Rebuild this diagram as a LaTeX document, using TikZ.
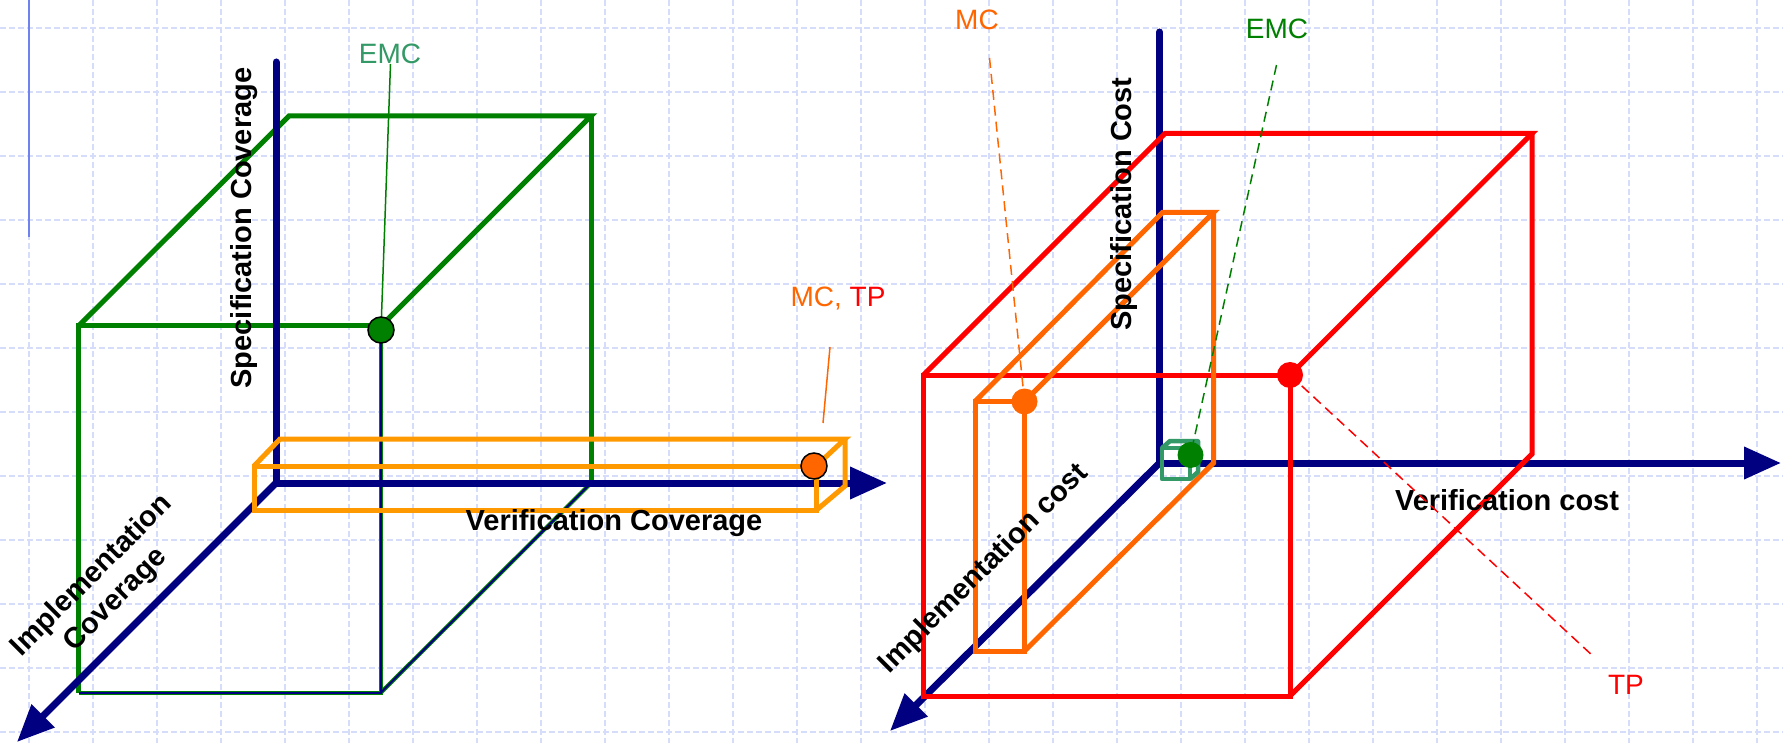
\documentclass[tikz,border=0pt]{standalone}
\usepackage{fontspec}
\setmainfont{Liberation Sans}
\usetikzlibrary{arrows.meta}
\definecolor{navyax}{HTML}{000080}
\definecolor{gbox}{HTML}{008000}
\definecolor{oleft}{HTML}{FF9900}
\definecolor{oright}{HTML}{FF6600}
\definecolor{rbox}{HTML}{FF0000}
\definecolor{sgreen}{HTML}{339966}
\definecolor{gridc}{RGB}{214,221,250}
\definecolor{slideblue}{RGB}{110,130,240}
\begin{document}
\begin{tikzpicture}[x=1pt,y=-1pt,
 gridline/.style={draw=gridc, line width=1.8pt, dash pattern=on 6pt off 3pt},
 axisline/.style={draw=navyax, line width=7pt},
 axisarrow/.style={axisline, -{Triangle[length=37pt,width=31pt]}},
 boxedge/.style={line width=5pt, line join=miter},
 leader/.style={line width=1.5pt},
 dleader/.style={line width=1.5pt, dash pattern=on 10pt off 6pt},
 axlabel/.style={font=\fontsize{29}{34}\selectfont\bfseries, text=black, inner sep=0pt},
 tag/.style={font=\fontsize{28}{32}\selectfont, inner sep=0pt},
 dot/.style={circle, inner sep=0pt, minimum size=26pt},
]
\useasboundingbox (0,0) rectangle (1783,743);
\fill[white] (0,0) rectangle (1783,743);
% background grid
\foreach \i in {0,...,27} \draw[gridline] (28.7+64*\i,0) -- (28.7+64*\i,743);
\foreach \j in {0,...,11} \draw[gridline] (0,27.7+64*\j) -- (1783,27.7+64*\j);
\draw[slideblue, line width=2pt] (28.7,0) -- (28.7,237);

% ================= LEFT DIAGRAM =================
\coordinate (O1) at (276,483);
\coordinate (V1) at (276,62);
\coordinate (H1) at (887,483);
\coordinate (D1) at (17,742);
% green box
\coordinate (gFTL) at (78.5,326);
\coordinate (gFTR) at (381,326);
\coordinate (gFBL) at (78.5,692.5);
\coordinate (gFBR) at (381,692.5);
\coordinate (gBTL) at (289,116);
\coordinate (gBTR) at (591,116);
\coordinate (gBBR) at (591,483);
\draw[boxedge, gbox] (gFBL) -- (gFTL) -- (gFTR);
\draw[boxedge, gbox] (gFTL) -- (gBTL) -- (gBTR) -- (gFTR);
\draw[boxedge, gbox] (gBTR) -- (gBBR);
\draw[line width=4pt, gbox] (gFTR) -- (gFBR) -- (gFBL);
\draw[line width=4pt, gbox] (gFBR) -- (gBBR);
% axes
\draw[axisline, line cap=round] (O1) -- (V1);
\draw[axisarrow] (O1) -- (H1);
\draw[axisarrow] (O1) -- (D1);
\draw[line width=2pt, navyax] (gFTR) -- (gFBR) -- (gFBL);
\draw[line width=2pt, navyax] (gFBR) -- (gBBR);
% orange box
\coordinate (oFTL) at (254,466);
\coordinate (oFTR) at (816,466);
\coordinate (oFBL) at (254,510.5);
\coordinate (oFBR) at (816,510.5);
\coordinate (oBTL) at (280,439);
\coordinate (oBTR) at (845,439);
\coordinate (oBBR) at (845,486);
\draw[boxedge, oleft] (oFTL) -- (oFTR) -- (oFBR) -- (oFBL) -- cycle;
\draw[boxedge, oleft] (oFTL) -- (oBTL) -- (oBTR) -- (oFTR);
\draw[boxedge, oleft] (oBTR) -- (oBBR) -- (oFBR);
% labels
\node[axlabel, rotate=90] (specL) at (244,228) {Specification Coverage};
\node[axlabel] (verL) at (614,523) {Verification Coverage};
\node[axlabel, rotate=45, align=center] (implL) at (104,588) {Implementation\\Coverage};
\node[tag, text=sgreen] (emcLt) at (390,54) {EMC};
\node[tag] (mctpL) at (838,299) {\textcolor{oright}{MC,} \textcolor{rbox}{TP}};
\coordinate (emcLs) at (390.5,64);
\coordinate (mctpLs) at (830,347);
\coordinate (mctpLe) at (823,423);
\draw[leader, gbox] (emcLs) -- (381,330);
\draw[leader, oright] (mctpLs) -- (mctpLe);
\node[dot, fill=gbox, draw=black, line width=1.5pt] (emcL) at (381,330) {};
\node[dot, fill=oright, draw=black, line width=1.5pt] (mctpLd) at (814,466) {};

% ================= RIGHT DIAGRAM =================
\coordinate (O2) at (1159.5,463);
\coordinate (V2) at (1159.5,32);
\coordinate (H2) at (1781,463);
\coordinate (D2) at (890,731);
\draw[axisline, line cap=round] (O2) -- (V2);
\draw[axisarrow] (O2) -- (H2);
\draw[axisarrow] (O2) -- (D2);
% red box
\coordinate (rFTL) at (923.5,375);
\coordinate (rFTR) at (1290,375);
\coordinate (rFBL) at (923.5,696);
\coordinate (rFBR) at (1290,696);
\coordinate (rBTL) at (1165,133.5);
\coordinate (rBTR) at (1532,133.5);
\coordinate (rBBR) at (1532,454);
\draw[boxedge, rbox] (rFTL) -- (rFTR) -- (rFBR) -- (rFBL) -- cycle;
\draw[boxedge, rbox] (rFTL) -- (rBTL) -- (rBTR) -- (rFTR);
\draw[boxedge, rbox] (rBTR) -- (rBBR) -- (rFBR);
% orange box
\coordinate (qFTL) at (975,401.5);
\coordinate (qFTR) at (1024.5,401.5);
\coordinate (qFBL) at (975,651);
\coordinate (qFBR) at (1024.5,651);
\coordinate (qBTL) at (1162.5,212.5);
\coordinate (qBTR) at (1213.5,212.5);
\coordinate (qBBR) at (1213.5,463);
\draw[boxedge, oright] (qFTL) -- (qFTR) -- (qFBR) -- (qFBL) -- cycle;
\draw[boxedge, oright] (qFTL) -- (qBTL) -- (qBTR) -- (qFTR);
\draw[boxedge, oright] (qBTR) -- (qBBR) -- (qFBR);
% small green cube
\coordinate (cFTL) at (1162,448);
\coordinate (cFTR) at (1190,448);
\coordinate (cFBL) at (1162,479);
\coordinate (cFBR) at (1190,479);
\coordinate (cBTL) at (1170,441);
\coordinate (cBTR) at (1198,441);
\coordinate (cBBR) at (1198,472);
\draw[line width=4.5pt, sgreen, line join=round] (cFTL) -- (cFTR) -- (cFBR) -- (cFBL) -- cycle;
\draw[line width=4.5pt, sgreen, line join=round] (cFTL) -- (cBTL) -- (cBTR) -- (cFTR);
\draw[line width=4.5pt, sgreen, line join=round] (cBTR) -- (cBBR) -- (cFBR);
% labels
\node[axlabel, rotate=90] (specR) at (1124,204) {Specification Cost};
\node[axlabel] (verR) at (1507,500) {Verification cost};
\node[axlabel, rotate=45] (implR) at (984,569) {Implementation cost};
\node[tag, text=oright] (mcRt) at (977,20) {MC};
\node[tag, text=gbox] (emcRt) at (1277,29) {EMC};
\node[tag, text=rbox] (tpRt) at (1626,685) {TP};
\coordinate (mcRs) at (989.5,58);
\coordinate (emcRs) at (1276.5,65);
\coordinate (tpRe) at (1594,657);
\draw[dleader, oright] (mcRs) -- (1024.5,401.5);
\draw[dleader, gbox] (emcRs) -- (1190.5,455);
\draw[dleader, rbox] (1290,375) -- (tpRe);
\node[dot, fill=rbox] (tpR) at (1290,375) {};
\node[dot, fill=oright] (mcR) at (1024.5,401.5) {};
\node[dot, fill=gbox] (emcR) at (1190.5,455) {};
\end{tikzpicture}
\end{document}
